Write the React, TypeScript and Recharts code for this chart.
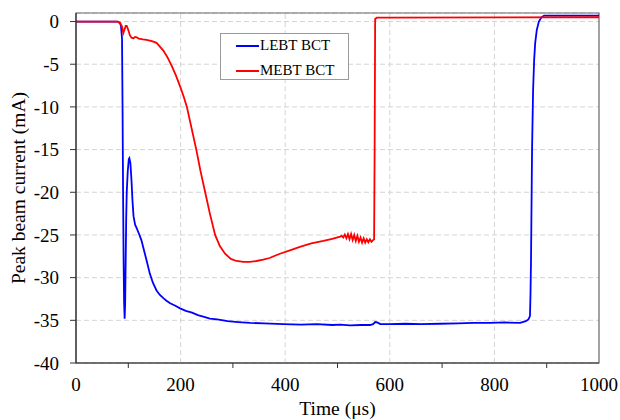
import React from "react";
import {
  LineChart,
  Line,
  XAxis,
  YAxis,
  CartesianGrid,
  ReferenceLine,
  ReferenceArea,
} from "recharts";

// ---------- data ----------
const lebtTime = [
  0, 80, 84, 86, 88, 89, 90, 91, 92, 93, 94, 95, 96, 97, 99, 101, 102, 104, 106, 108,
  110, 113, 116, 120, 125, 130, 135, 141, 147, 154, 160, 167, 173, 180, 190, 199, 210,
  222, 233, 245, 256, 270, 290, 310, 333, 360, 396, 430, 460, 490, 505, 524, 545, 562,
  568, 572, 576, 582, 600, 630, 660, 696, 730, 760, 792, 820, 849, 860, 865, 868, 869,
  870, 872, 874, 876, 878, 881, 885, 890, 895, 950, 1000,
];
const lebtCurrent = [
  0, 0, -0.2, -0.5, -2, -10, -20, -28, -33, -34.8, -33, -28, -23, -20, -17.5, -16.1, -16.0,
  -16.6, -18.5, -21, -22.8, -23.8, -24.2, -24.8, -25.6, -26.8, -28.0, -29.5, -30.6, -31.5,
  -32.0, -32.4, -32.7, -33.0, -33.3, -33.6, -33.9, -34.1, -34.4, -34.6, -34.8, -34.9,
  -35.1, -35.2, -35.3, -35.35, -35.45, -35.5, -35.45, -35.55, -35.5, -35.6, -35.55,
  -35.55, -35.45, -35.2, -35.25, -35.45, -35.45, -35.4, -35.45, -35.4, -35.35, -35.3,
  -35.3, -35.25, -35.3, -35.1, -34.9, -34.5, -32, -28, -15, -8, -4.5, -2.5, -1, 0, 0.5,
  0.7, 0.7, 0.7,
];

const mebtTime = [
  0, 78, 84, 88, 90.5, 93, 95, 97, 100, 103, 106, 110, 113, 116, 120, 128, 135, 145, 154,
  160, 167, 175, 183, 191, 199, 206, 212, 221, 230, 238, 247, 256, 266, 275, 285, 296,
  307, 320, 332, 345, 358, 370, 390, 409, 428, 450, 473, 490, 505, 508, 511, 514, 517,
  520, 523, 526, 529, 532, 535, 538, 541, 544, 547, 550, 553, 556, 559, 562, 565, 568,
  570, 571, 572, 575, 600, 1000,
];
const mebtCurrent = [
  0, 0, -0.1, -0.6, -1.35, -0.9, -0.5, -0.5, -1.0, -1.6, -1.9, -1.95, -1.8, -1.85, -2.0,
  -2.1, -2.15, -2.3, -2.5, -2.9, -3.4, -4.2, -5.2, -6.3, -7.6, -8.8, -10.0, -12.5, -15.0,
  -17.5, -20.0, -22.5, -25.0, -26.3, -27.2, -27.8, -28.05, -28.15, -28.15, -28.05, -27.9,
  -27.7, -27.2, -26.8, -26.4, -26.0, -25.7, -25.45, -25.2, -25.1, -25.3, -24.95, -25.4,
  -24.9, -25.5, -24.9, -25.6, -25.0, -25.7, -25.1, -25.8, -25.3, -25.9, -25.4, -25.9,
  -25.5, -25.85, -25.5, -25.8, -25.6, -25.5, -15, 0.3, 0.45, 0.45, 0.5,
];

const xTicks = [0, 100, 200, 300, 400, 500, 600, 700, 800, 900, 1000];
const xGridValues = [200, 400, 600, 800];
const yTicks = [-40, -35, -30, -25, -20, -15, -10, -5, 0];

const seriesNames = ["LEBT BCT", "MEBT BCT"];
const seriesColors = ["#0000ff", "#ff0000"];

const xLabel = "Time (\u03bcs)";
const yLabel = "Peak beam current (mA)";

const lebtData = lebtTime.map((t, i) => ({ t, v: lebtCurrent[i] }));
const mebtData = mebtTime.map((t, i) => ({ t, v: mebtCurrent[i] }));

const FONT = "'Liberation Serif', 'Times New Roman', serif";
const AXIS = "#333333";
const tickStyle = { fontFamily: FONT, fontSize: 19 };
const labelStyle = { fontFamily: FONT, fontSize: 19.5 };

const XTick = (props: any) => {
  const { x, y, payload } = props;
  const v = payload.value;
  if (v % 200 === 0) {
    return (
      <text x={x} y={y + 28} textAnchor="middle" style={tickStyle} fill="#000">
        {v}
      </text>
    );
  }
  return <line x1={x} x2={x} y1={y} y2={y + 5} stroke={AXIS} strokeWidth={1} />;
};

const YTick = (props: any) => {
  const { x, y, payload } = props;
  return (
    <text x={x} y={y} dy="0.35em" textAnchor="end" style={tickStyle} fill="#000">
      {payload.value}
    </text>
  );
};

export default function App() {
  return (
    <div style={{ position: "absolute", left: 0, top: 0, width: 620, height: 420 }}>
      <LineChart
        width={620}
        height={420}
        margin={{ top: 13, right: 21, bottom: 7, left: 16 }}
      >
        <CartesianGrid vertical={false} stroke="#d4d4d4" strokeDasharray="5 3" />
        {xGridValues.map((xv) => (
          <ReferenceLine key={xv} x={xv} stroke="#d4d4d4" strokeDasharray="5 3" />
        ))}
        <XAxis
          type="number"
          dataKey="t"
          domain={[0, 1000]}
          ticks={xTicks}
          interval={0}
          allowDataOverflow
          height={50}
          tickSize={0}
          tickMargin={0}
          tickLine={false}
          tick={<XTick />}
          axisLine={{ stroke: AXIS, strokeWidth: 1.2 }}
          label={{
            content: (p: any) => {
              const vb = p.viewBox;
              return (
                <text
                  x={vb.x + vb.width / 2}
                  y={vb.y + 52}
                  textAnchor="middle"
                  style={labelStyle}
                  fill="#000"
                >
                  {xLabel}
                </text>
              );
            },
          }}
        />
        <YAxis
          type="number"
          domain={[-40, 1]}
          ticks={yTicks}
          interval={0}
          allowDataOverflow
          width={60}
          tickSize={6}
          tickMargin={11}
          tickLine={{ stroke: AXIS }}
          axisLine={{ stroke: AXIS, strokeWidth: 1.2 }}
          tick={<YTick />}
          label={{
            content: (p: any) => {
              const vb = p.viewBox;
              const cx = vb.x + 9;
              const cy = vb.y + vb.height / 2;
              return (
                <text
                  x={cx}
                  y={cy}
                  transform={`rotate(-90, ${cx}, ${cy})`}
                  textAnchor="middle"
                  style={labelStyle}
                  fill="#000"
                >
                  {yLabel}
                </text>
              );
            },
          }}
        />
        <ReferenceArea
          x1={0}
          x2={1000}
          y1={-40}
          y2={1}
          fill="none"
          fillOpacity={0}
          stroke="#666666"
          strokeWidth={1.2}
        />
        <Line
          data={lebtData}
          dataKey="v"
          name={seriesNames[0]}
          stroke={seriesColors[0]}
          strokeWidth={1.8}
          dot={false}
          type="linear"
          isAnimationActive={false}
        />
        <Line
          data={mebtData}
          dataKey="v"
          name={seriesNames[1]}
          stroke={seriesColors[1]}
          strokeWidth={1.8}
          dot={false}
          type="linear"
          isAnimationActive={false}
        />
      </LineChart>
      <div
        style={{
          position: "absolute",
          left: 220,
          top: 33,
          width: 127,
          height: 45,
          border: "1px solid #9a9a9a",
          background: "#fff",
          fontFamily: FONT,
          fontSize: 15,
          color: "#000",
        }}
      >
        {seriesNames.map((n, i) => (
          <div
            key={n}
            style={{
              position: "absolute",
              left: 0,
              top: i * 25 - 1,
              height: 25,
              lineHeight: "25px",
              display: "flex",
              alignItems: "center",
              whiteSpace: "nowrap",
            }}
          >
            <div
              style={{
                marginLeft: 15,
                width: 23,
                height: 2,
                background: seriesColors[i],
              }}
            />
            <span style={{ marginLeft: 1 }}>{n}</span>
          </div>
        ))}
      </div>
    </div>
  );
}
